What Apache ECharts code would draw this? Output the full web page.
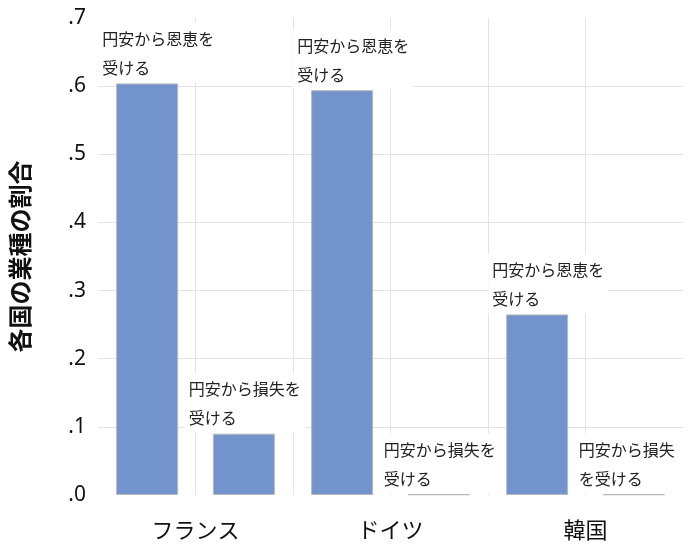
<!DOCTYPE html>
<html>
<head>
<meta charset="utf-8">
<script src="https://cdn.jsdelivr.net/npm/echarts@6/dist/echarts.min.js"></script>
<style>
html, body { margin: 0; padding: 0; background: #fff; }
#chart { width: 688px; height: 544px; }
</style>
</head>
<body>
<div id="chart"></div>
<script>
var categories = ['フランス', 'ドイツ', '韓国'];
var gainValues = [0.604, 0.594, 0.265];
var lossValues = [0.090, 0.001, 0.001];
var gainLabels = ['円安から恩恵を\n受ける', '円安から恩恵を\n受ける', '円安から恩恵を\n受ける'];
var lossLabels = ['円安から損失を\n受ける', '円安から損失を\n受ける', '円安から損失\nを受ける'];
// 縦のグリッド線用（カテゴリの半分ごと）
var halfSlots = ['a', 'b', 'c', 'd', 'e', 'f'];

var jpFont = '"Noto Sans CJK JP", sans-serif';

function barLabel(texts, dx) {
    return {
        show: true,
        position: 'top',
        align: 'left',
        distance: 1,
        offset: [dx, 0],
        formatter: function (p) { return texts[p.dataIndex]; },
        fontFamily: jpFont,
        fontSize: 16,
        lineHeight: 29,
        color: '#222',
        backgroundColor: '#fff',
        padding: [2, 4, 0, 4]
    };
}

var barStyle = {
    color: '#7293cb',
    borderColor: '#b8b8b8',
    borderWidth: 1
};

var myChart = echarts.init(document.getElementById('chart'));
myChart.setOption({
    animation: false,
    backgroundColor: '#fff',
    grid: { left: 98, right: 5, top: 18, bottom: 49 },
    xAxis: [{
        type: 'category',
        data: categories,
        axisLine: { show: false },
        axisTick: { show: false },
        splitLine: { show: false },
        axisLabel: {
            margin: 24,
            fontFamily: jpFont,
            fontSize: 22,
            color: '#111'
        }
    }, {
        type: 'category',
        data: halfSlots,
        position: 'bottom',
        axisLine: { show: false },
        axisTick: { show: false },
        axisLabel: { show: false },
        splitLine: {
            show: true,
            showMinLine: false,
            showMaxLine: false,
            lineStyle: { color: '#e3e3e3', width: 1 }
        }
    }],
    yAxis: {
        type: 'value',
        min: 0,
        max: 0.7,
        interval: 0.1,
        name: '各国の業種の割合',
        nameLocation: 'middle',
        nameRotate: 90,
        nameGap: 66,
        nameTextStyle: {
            fontFamily: jpFont,
            fontSize: 24,
            fontWeight: 'bold',
            color: '#111'
        },
        axisLine: { show: false },
        axisTick: { show: false },
        axisLabel: {
            margin: 12,
            fontFamily: '"Noto Sans", sans-serif',
            fontSize: 21,
            color: '#111',
            formatter: function (v) { return v.toFixed(1).replace(/^0/, ''); }
        },
        splitLine: {
            show: true,
            showMinLine: false,
            showMaxLine: false,
            lineStyle: { color: '#e3e3e3', width: 1 }
        }
    },
    series: [{
        name: '円安から恩恵を受ける',
        type: 'bar',
        xAxisIndex: 0,
        data: gainValues,
        barWidth: 62,
        barGap: '56%',
        itemStyle: barStyle,
        label: barLabel(gainLabels, -49)
    }, {
        name: '円安から損失を受ける',
        type: 'bar',
        xAxisIndex: 0,
        data: lossValues,
        barWidth: 62,
        barGap: '56%',
        itemStyle: barStyle,
        label: barLabel(lossLabels, -59)
    }]
});
</script>
</body>
</html>
